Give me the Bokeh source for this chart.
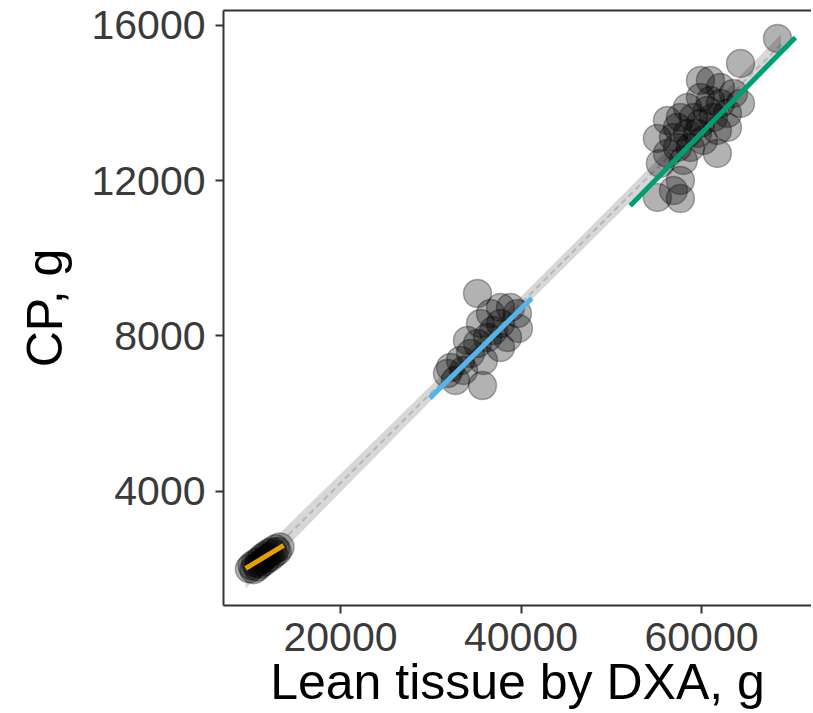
import numpy as np
from bokeh.plotting import figure
from bokeh.models import LinearAxis, FixedTicker, NumeralTickFormatter, Range1d
from bokeh.embed import file_html
from bokeh.resources import INLINE

# ---- data ----
g1_x = [9900, 10200, 10400, 10600, 10800, 11000, 11100, 11300, 11500, 11600,
        11800, 12000, 12200, 12400, 12600, 12800, 13000, 13300]
g1_y = [2000, 2080, 1980, 2150, 2050, 2200, 2120, 2280, 2180, 2330,
        2250, 2400, 2300, 2450, 2380, 2520, 2450, 2560]

g2_x = [35180, 35730, 31855, 32740, 33630, 34400, 35180, 34070, 36290, 36960,
        37730, 36620, 37730, 38840, 39610, 39720, 38510, 35840, 37730, 33300,
        32190, 35510]
g2_y = [9093, 6723, 7032, 6852, 7110, 7548, 7805, 7883, 7960, 8140,
        8320, 8578, 8733, 8733, 8578, 8192, 7960, 7367, 7702, 7367,
        7187, 8320]

g3_x = [68420, 64320, 60990, 59880, 58440, 63540, 64320, 62880, 56230, 57340,
        55110, 58440, 59880, 61320, 61760, 60210, 58770, 57340, 56230, 61760,
        57990, 57660, 55440, 55110, 57660, 56890, 60990, 62100, 59100, 57660,
        60650, 62880, 59550, 56890, 59880, 62100]
g3_y = [15662, 15018, 14580, 14140, 13885, 14245, 13988, 13730, 13550, 13370,
        13086, 13215, 13472, 13627, 13292, 13035, 12855, 12855, 12700, 12700,
        12520, 12004, 12442, 11566, 11540, 11746, 14066, 13988, 13627, 13627,
        13807, 13370, 13215, 13112, 14580, 14400]

# per-group fitted lines (intercept, slope, x-span)
fit_intercept = [677, -417, -984]
fit_slope = [0.1406, 0.2279, 0.2368]
fit_x_start = [9500, 29900, 52100]
fit_x_end = [13700, 41200, 70400]
fit_colors = ["#E69F00", "#56B4E9", "#009E73"]

x_ticks = [20000, 40000, 60000]
y_ticks = [4000, 8000, 12000, 16000]

x_title = "Lean tissue by DXA, g"
y_title = "CP, g"

# ---- overall regression with 95% CI ----
all_x = np.array(g1_x + g2_x + g3_x, dtype=float)
all_y = np.array(g1_y + g2_y + g3_y, dtype=float)
b, a = np.polyfit(all_x, all_y, 1)
n = len(all_x)
resid = all_y - (a + b * all_x)
s = np.sqrt(np.sum(resid ** 2) / (n - 2))
xm = all_x.mean()
sxx = np.sum((all_x - xm) ** 2)
gx = np.linspace(all_x.min() - 400, all_x.max() + 400, 100)
gy = a + b * gx
se = s * np.sqrt(1.0 / n + (gx - xm) ** 2 / sxx)
tcrit = 1.99

FONT = "Liberation Sans"

W, H = 811, 712
p = figure(width=W, height=H,
           x_range=Range1d(7036, 72188), y_range=Range1d(1056, 16381),
           output_backend="svg", toolbar_location=None,
           min_border_left=223, min_border_right=0,
           min_border_top=10, min_border_bottom=H - 605,
           x_axis_location=None, y_axis_location=None)
p.grid.visible = False
p.outline_line_color = None
p.background_fill_color = "white"
p.border_fill_color = "white"

# band + dashed overall line
p.varea(x=gx, y1=gy - tcrit * se - 60, y2=gy + tcrit * se + 60,
        fill_color="#CDCDCD", fill_alpha=0.8)
p.line(gx, gy, line_color="#A0A0A0", line_width=2, line_dash="6 4", line_alpha=0.6)

# points
for xs, ys in [(g1_x, g1_y), (g2_x, g2_y), (g3_x, g3_y)]:
    p.scatter(xs, ys, size=28, fill_color="black", fill_alpha=0.3,
              line_color="black", line_alpha=0.3, line_width=1.5)

# group fit lines
for i in range(3):
    xx = np.array([fit_x_start[i], fit_x_end[i]], dtype=float)
    p.line(xx, fit_intercept[i] + fit_slope[i] * xx,
           line_color=fit_colors[i], line_width=5)

AX = "#333333"

xaxis = LinearAxis(ticker=FixedTicker(ticks=x_ticks),
                   formatter=NumeralTickFormatter(format="0"),
                   axis_label=x_title)
yaxis = LinearAxis(ticker=FixedTicker(ticks=y_ticks),
                   formatter=NumeralTickFormatter(format="0"),
                   axis_label=y_title)
for ax in (xaxis, yaxis):
    ax.axis_line_color = AX
    ax.axis_line_width = 2
    ax.major_tick_line_color = AX
    ax.major_tick_line_width = 2
    ax.major_tick_out = 8
    ax.major_tick_in = 0
    ax.minor_tick_line_color = None
    ax.major_label_text_font = FONT
    ax.major_label_text_font_size = "41px"
    ax.major_label_text_color = "#3A3A3A"
    ax.axis_label_text_font = FONT
    ax.axis_label_text_font_size = "50px"
    ax.axis_label_text_font_style = "normal"
    ax.axis_label_text_color = "black"
xaxis.major_label_standoff = 9
xaxis.axis_label_standoff = 0
yaxis.major_label_standoff = 10
yaxis.axis_label_standoff = 15
p.add_layout(xaxis, "below")
p.add_layout(yaxis, "left")

top = LinearAxis(ticker=FixedTicker(ticks=[]), axis_line_color=AX, axis_line_width=2,
                 major_tick_line_color=None, minor_tick_line_color=None,
                 major_label_text_font_size="0px", major_label_standoff=0)
p.add_layout(top, "above")

open("out.html", "w").write(file_html(p, INLINE))
